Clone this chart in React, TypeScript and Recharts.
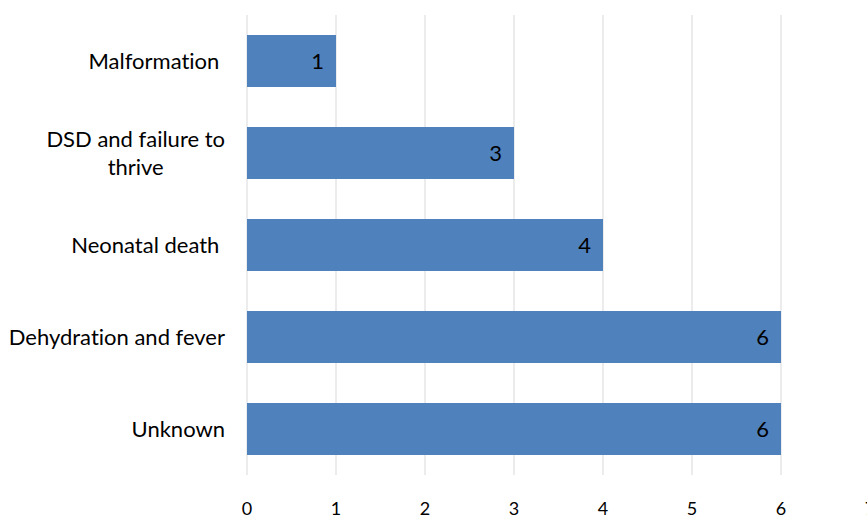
import React from 'react';
import { BarChart, Bar, XAxis, YAxis, CartesianGrid, LabelList } from 'recharts';

const causes = ['Malformation ', 'DSD and failure to|thrive', 'Neonatal death ', 'Dehydration and fever', 'Unknown'];
const counts = [1, 3, 4, 6, 6];
const xTicks = [0, 1, 2, 3, 4, 5, 6, 7];

const data = causes.map((c, i) => ({ cause: c, count: counts[i] }));

const FONT = 'Lato, sans-serif';
const FS = 22;
const noLig = { fontVariantLigatures: 'none' as const };

const measure = (s: string) => {
  const c = document.createElement('canvas').getContext('2d');
  if (!c) return s.length * FS * 0.45;
  c.font = `${FS}px ${FONT}`;
  return c.measureText(s).width;
};

const CauseTick = (props: any) => {
  const { x, y, payload } = props;
  const lines: string[] = String(payload.value).split('|');
  const right = x - 14;
  if (lines.length === 1) {
    return (
      <text x={right} y={y} dy="0.35em" textAnchor="end" fontSize={FS} fontFamily={FONT} fill="#000" style={{ whiteSpace: 'pre', ...noLig }}>
        {lines[0]}
      </text>
    );
  }
  const w = Math.max(...lines.map(measure));
  const cx = right - w / 2;
  const lh = 28;
  const y0 = y - ((lines.length - 1) * lh) / 2;
  return (
    <text textAnchor="middle" fontSize={FS} fontFamily={FONT} fill="#000" style={noLig}>
      {lines.map((l, i) => (
        <tspan key={i} x={cx} y={y0 + i * lh} dy="0.35em">{l}</tspan>
      ))}
    </text>
  );
};

export default function App() {
  return (
    <div style={{ position: 'absolute', left: 0, top: 0, width: 867, height: 518, overflow: 'hidden', background: '#fff' }}>
      <BarChart
        width={880}
        height={518}
        data={data}
        layout="vertical"
        margin={{ top: 15, right: 10, left: 0, bottom: 0 }}
        barCategoryGap={20}
      >
        <CartesianGrid horizontal={false} stroke="#d9d9d9" strokeWidth={1} />
        <XAxis
          type="number"
          domain={[0, 7]}
          ticks={xTicks}
          axisLine={false}
          tickLine={false}
          height={43}
          tickMargin={21}
          tick={{ fill: '#000', fontSize: 18, fontFamily: FONT }}
        />
        <YAxis
          type="category"
          dataKey="cause"
          width={247}
          axisLine={false}
          tickLine={false}
          tick={<CauseTick />}
        />
        <Bar dataKey="count" fill="#4f81bd" isAnimationActive={false}>
          <LabelList dataKey="count" position="insideRight" offset={12} fill="#000" fontSize={FS} fontFamily={FONT} />
        </Bar>
      </BarChart>
    </div>
  );
}
